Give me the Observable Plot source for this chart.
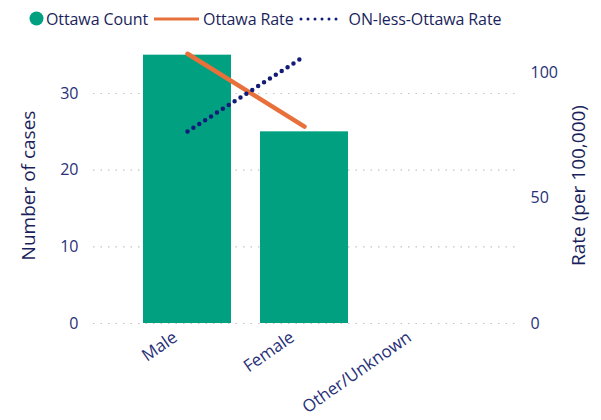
<!DOCTYPE html>
<html><head><meta charset="utf-8">
<script src="https://cdn.jsdelivr.net/npm/d3@7"></script>
<script src="https://cdn.jsdelivr.net/npm/@observablehq/plot@0.6"></script>
<style>
body{margin:0;background:#fff;font-family:"Open Sans",sans-serif;}
#legend{height:35px;display:flex;align-items:center;font-size:16px;color:#1b1f5c;padding-left:29px;box-sizing:border-box;padding-top:2px;letter-spacing:-0.1px;}
#legend .it{display:flex;align-items:center;margin-right:3px;}
#legend svg{margin-right:2px;}
</style></head><body>
<div id="legend"></div>
<div id="chart"></div>
<script>
const categories = ["Male", "Female", "Other/Unknown"];
const ottawaCount = [35, 25, 0];
const ottawaRate = [107.5, 78.5, null];
const onLessOttawaRate = [76.5, 106.5, null];
const countMax = 36, rateMax = 110;
const leftTicks = [0, 10, 20, 30];
const rightTicks = [0, 50, 100];

const colors = {count: "#01a081", rate: "#e8703a", onRate: "#121c78", text: "#283078", title: "#1b1f5c"};
const k = countMax / rateMax;

const bars = categories.map((c, i) => ({cat: c, v: ottawaCount[i]})).filter(d => d.v > 0);
const rateLine = categories.map((c, i) => ({cat: c, v: ottawaRate[i]})).filter(d => d.v != null);
const onLine = categories.map((c, i) => ({cat: c, v: onLessOttawaRate[i]})).filter(d => d.v != null);

// legend
const leg = document.getElementById("legend");
leg.innerHTML = `
<span class="it"><svg width="15" height="15"><circle cx="7.5" cy="7.5" r="7" fill="${colors.count}"/></svg>Ottawa Count</span>
<span class="it"><svg width="50" height="10"><line x1="3" x2="48" y1="5" y2="5" stroke="${colors.rate}" stroke-width="3"/></svg>Ottawa Rate</span>
<span class="it"><svg width="50" height="10"><line x1="4" x2="46" y1="5" y2="5" stroke="${colors.onRate}" stroke-width="3" stroke-dasharray="0 7" stroke-linecap="round"/></svg>ON-less-Ottawa Rate</span>`;

const chart = Plot.plot({
  width: 601,
  height: 385,
  marginTop: 12,
  marginBottom: 97,
  marginLeft: 93,
  marginRight: 86,
  style: {fontFamily: "Open Sans, sans-serif", fontSize: "16px", color: colors.text, background: "#fff"},
  x: {domain: categories, paddingInner: 0.25, paddingOuter: 0.42, label: null},
  y: {domain: [0, countMax], label: null},
  marks: [
    Plot.gridY(leftTicks, {stroke: "#c4c4c4", strokeOpacity: 1, strokeDasharray: "1.5 6", strokeWidth: 1.2}),
    Plot.barY(bars, {x: "cat", y: "v", fill: colors.count}),
    Plot.lineY(rateLine, {x: "cat", y: d => d.v * k, stroke: colors.rate, strokeWidth: 4.5, strokeLinecap: "round"}),
    Plot.lineY(onLine, {x: "cat", y: d => d.v * k, stroke: colors.onRate, strokeWidth: 4.5, strokeDasharray: "0 7", strokeLinecap: "round"}),
    Plot.axisY(leftTicks, {anchor: "left", tickSize: 0, tickPadding: 15, fill: colors.text, fontSize: 16,
      label: "Number of cases", labelAnchor: "center", labelArrow: "none", labelOffset: 72}),
    Plot.axisY(rightTicks.map(v => v * k), {anchor: "right", tickSize: 0, tickPadding: 15, fill: colors.text, fontSize: 16,
      tickFormat: d => Math.round(d / k), label: "Rate (per 100,000)", labelAnchor: "center", labelArrow: "none", labelOffset: 69}),
    Plot.axisX({tickSize: 0, tickPadding: 10, tickRotate: -35, dx: -12, dy: 2, fill: colors.text, fontSize: 17, label: null})
  ]
});
document.getElementById("chart").appendChild(chart);
chart.querySelectorAll("g[aria-label='y-axis label']").forEach(g => {
  g.setAttribute("font-size", "19px");
  g.setAttribute("fill", colors.title);
});
</script>
</body></html>
